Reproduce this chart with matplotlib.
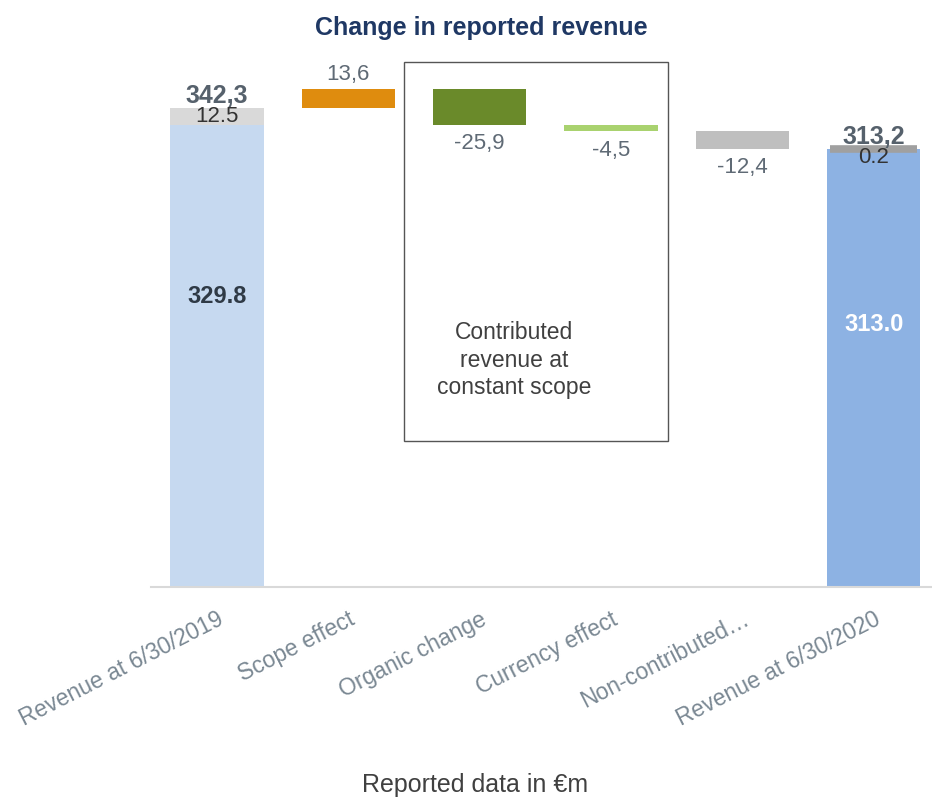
import matplotlib.pyplot as plt
from matplotlib.patches import Rectangle

plt.rcParams['font.family'] = ['Liberation Sans', 'DejaVu Sans']

categories = ['Revenue at 6/30/2019', 'Scope effect', 'Organic change',
              'Currency effect', 'Non-contributed…', 'Revenue at 6/30/2020']
start_base = 329.8          # revenue 2019, main part
start_extra = 12.5          # revenue 2019, grey part
start_total = 342.3
changes = [13.6, -25.9, -4.5, -12.4]
change_labels = ['13,6', '-25,9', '-4,5', '-12,4']
end_base = 313.0
end_extra = 0.2
end_total = 313.2

change_colors = ['#df8c0e', '#6a8a2a', '#a9d26f', '#bfbfbf']
label_col = '#5f6a75'

fig = plt.figure(figsize=(9.32, 8.07), dpi=100)
ax = fig.add_axes([0.1625, 0.2726, 0.8376, 0.6506])
w = 0.71

# first bar
ax.bar(0, start_base, w, color='#c6d9f0')
ax.bar(0, start_extra, w, bottom=start_base, color='#d9d9d9')
ax.text(0, start_total, '342,3', ha='center', va='bottom', fontsize=18,
        fontweight='bold', color='#56616c')
ax.text(0, start_base + start_extra / 2, '12.5', ha='center', va='center',
        fontsize=16, color='#333333')
ax.text(0, start_base * 0.63, '329.8', ha='center', va='center', fontsize=17,
        fontweight='bold', color='#2f3a46')

# changes
level = start_total
for i, (c, lab, col) in enumerate(zip(changes, change_labels, change_colors)):
    x = i + 1
    ax.bar(x, c, w, bottom=level, color=col)
    if c > 0:
        ax.annotate(lab, (x, level + c), xytext=(0, 3), textcoords='offset points',
                    ha='center', va='bottom', fontsize=16, color=label_col)
    else:
        ax.annotate(lab, (x, level + c), xytext=(0, -6), textcoords='offset points',
                    ha='center', va='top', fontsize=16, color=label_col)
    level += c

# last bar
ax.bar(5, end_base, w, color='#8db2e3')
ax.bar(5, end_extra, w * 0.94, bottom=end_base, color='#a0a0a0',
       edgecolor='#a0a0a0', linewidth=5.5)
ax.text(5, end_total, '313,2', ha='center', va='bottom', fontsize=18,
        fontweight='bold', color='#56616c')
ax.annotate('0.2', (5, end_total), xytext=(0, 1), textcoords='offset points',
            ha='center', va='top', fontsize=16, color='#333333')
ax.text(5, end_base * 0.60, '313.0', ha='center', va='center', fontsize=17,
        fontweight='bold', color='white')

# box around the constant scope part
ax.add_patch(Rectangle((1.42, 104), 2.01, 271, fill=False, edgecolor='#555555',
                       linewidth=1, clip_on=False))
ax.text(2.26, 162, 'Contributed\nrevenue at\nconstant scope', ha='center',
        va='center', fontsize=16.5, color='#404040', linespacing=1.25)

ax.set_xlim(-0.5, 5.445)
ax.set_ylim(0, 375)
ax.set_xticks(range(len(categories)))
ax.set_xticklabels(categories, rotation=27, ha='right', rotation_mode='anchor',
                   fontsize=16.5, color='#7a8893')
ax.tick_params(axis='x', length=0, pad=15)
ax.set_yticks([])
for s in ['top', 'right', 'left']:
    ax.spines[s].set_visible(False)
ax.spines['bottom'].set_color('#d9d9d9')
ax.spines['bottom'].set_linewidth(1.5)

fig.text(0.516, 0.965, 'Change in reported revenue', ha='center', va='center',
         fontsize=18, fontweight='bold', color='#1f3864')
fig.text(0.51, 0.012, 'Reported data in €m', ha='center', va='bottom',
         fontsize=18, color='#404040')

fig.savefig('out.png', dpi=100)
